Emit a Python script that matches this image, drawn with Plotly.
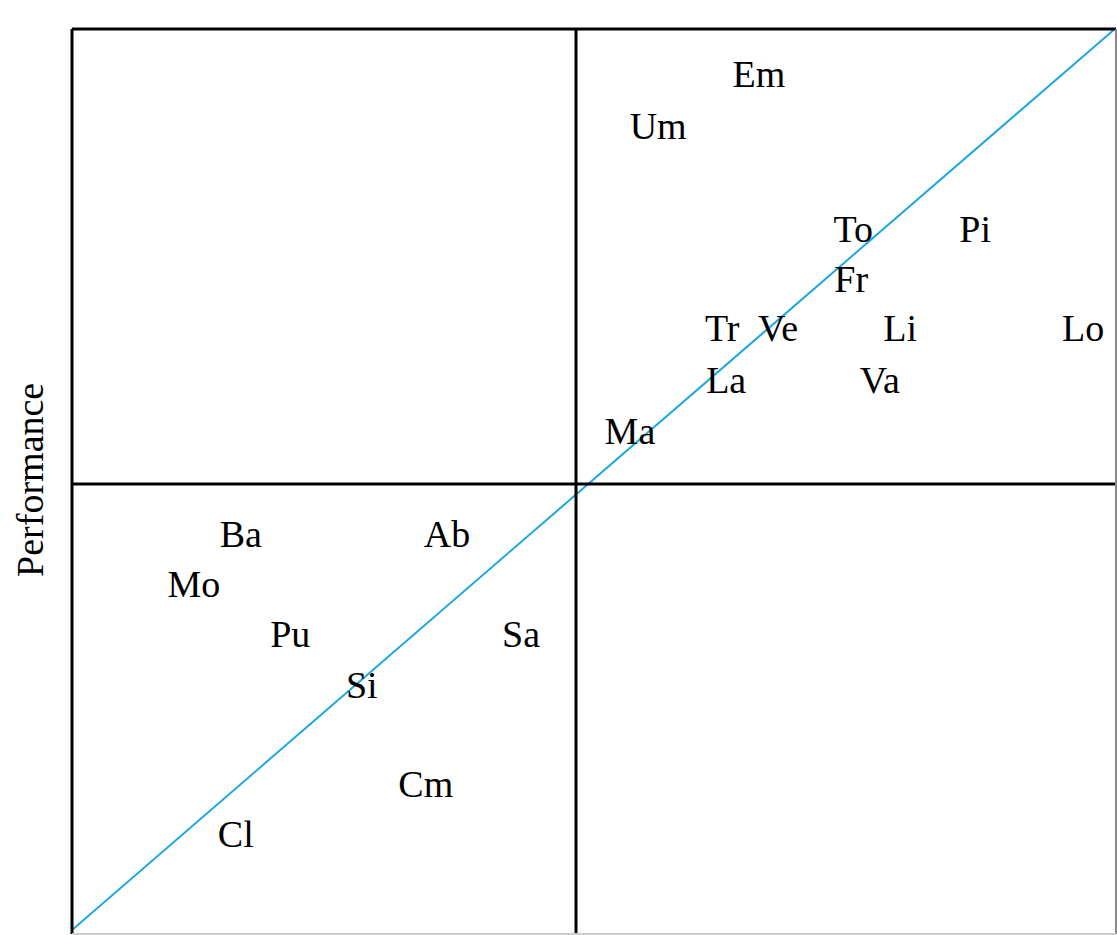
#! /usr/bin/env python3

import plotly.graph_objects as go

# Quadrant chart, labels placed by (x, y) position
labels = ['Em', 'Um', 'To', 'Pi', 'Fr', 'Tr', 'Ve', 'Li', 'Lo', 'La',
          'Va', 'Ma', 'Ba', 'Ab', 'Mo', 'Pu', 'Sa', 'Si', 'Cm', 'Cl']
x_vals = [3.63, 1.63, 5.50, 7.92, 5.46, 2.90, 4.01, 6.43, 10.06, 2.98,
          6.03, 1.07, -6.65, -2.56, -7.58, -5.67, -1.09, -4.25, -2.98, -6.75]
y_vals = [8.05, 7.02, 4.98, 4.98, 3.99, 3.01, 3.01, 3.01, 3.01, 1.98,
          1.98, 0.97, -1.05, -1.05, -2.04, -3.03, -3.03, -4.04, -6.00, -7.00]

# diagonal reference line
diag_x = [-10.0, 10.714]
diag_y = [-8.82, 9.02]

x_range = [-10.0, 10.714]
y_range = [-8.9, 9.0]

SERIF = 'Liberation Serif, Times New Roman, serif'

fig = go.Figure()

fig.add_trace(go.Scatter(x=diag_x, y=diag_y, mode='lines',
                         line=dict(color='#1ea6de', width=2),
                         hoverinfo='skip'))

fig.add_trace(go.Scatter(x=x_vals, y=y_vals, mode='text', text=labels,
                         textposition='middle center',
                         textfont=dict(family=SERIF, size=38, color='black'),
                         cliponaxis=False, hoverinfo='skip'))

# quadrant dividers
fig.add_vline(x=0, line=dict(color='black', width=3))
fig.add_hline(y=0, line=dict(color='black', width=3))

# frame: dark on left/top, faint on right/bottom like the scan
fig.add_shape(type='line', xref='paper', yref='paper', x0=0, x1=0, y0=0, y1=1,
              line=dict(color='black', width=3))
fig.add_shape(type='line', xref='paper', yref='paper', x0=0, x1=1, y0=1, y1=1,
              line=dict(color='black', width=3))
fig.add_shape(type='line', xref='paper', yref='paper', x0=1, x1=1, y0=0, y1=1,
              line=dict(color='#888888', width=2))
fig.add_shape(type='line', xref='paper', yref='paper', x0=0, x1=1, y0=0, y1=0,
              line=dict(color='#cccccc', width=2))

fig.add_annotation(text='Performance', xref='paper', yref='paper',
                   x=-0.041, y=0.502, textangle=-90, showarrow=False,
                   xanchor='center', yanchor='middle',
                   font=dict(family=SERIF, size=38, color='black'))

fig.update_xaxes(range=x_range, showgrid=False, zeroline=False,
                 showticklabels=False, ticks='', showline=False)
fig.update_yaxes(range=y_range, showgrid=False, zeroline=False,
                 showticklabels=False, ticks='', showline=False)

fig.update_layout(width=1117, height=935, showlegend=False,
                  plot_bgcolor='white', paper_bgcolor='white',
                  margin=dict(l=72, r=1, t=29, b=1))

# drop the default body margin so the figure fills the window exactly
fig.write_html("out.html", config={'displayModeBar': False},
               post_script="document.body.style.margin='0';"
                           "document.body.style.overflow='hidden';")
